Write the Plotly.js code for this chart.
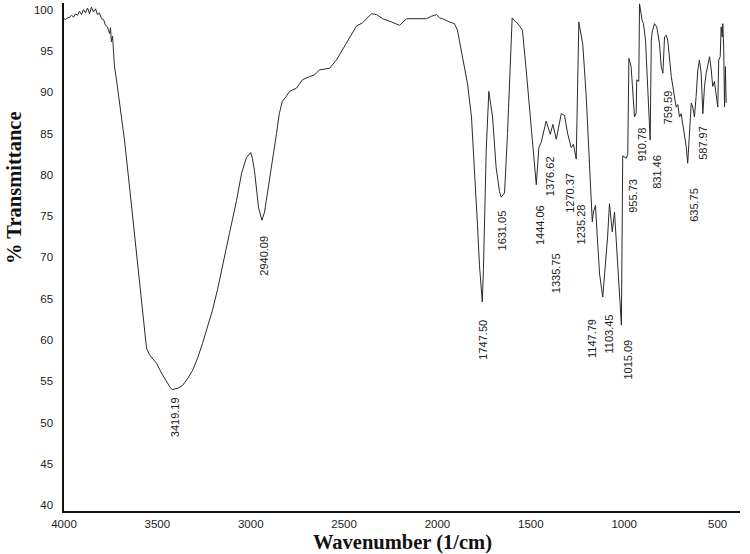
<!DOCTYPE html>
<html><head><meta charset="utf-8">
<script src="https://cdn.plot.ly/plotly-3.0.1.min.js"></script>
<style>html,body{margin:0;padding:0;background:#fff}#chart{width:750px;height:554px}</style>
</head><body><div id="chart"></div>
<script>
// ---- data ----
const wavenumber = [4000,3992,3981,3970,3960,3949,3938,3928,3917,3906,3896,3885,3874,3863,3853,3842,3831,3821,3810,3799,3788,3778,3767,3756,3751,3746,3740,3730,3719,3703,3676,3649,3622,3596,3569,3558,3542,3505,3478,3451,3430,3419,3400,3387,3365,3339,3312,3285,3258,3231,3205,3178,3151,3114,3076,3049,3023,3007,3000,2991,2980,2958,2940,2926,2916,2889,2862,2847,2831,2809,2792,2755,2723,2685,2659,2632,2578,2541,2487,2434,2402,2353,2327,2294,2246,2203,2166,2112,2059,2032,2005,1989,1973,1936,1909,1893,1866,1839,1818,1802,1786,1775,1760,1754,1739,1725,1705,1686,1668,1659,1641,1625,1611,1600,1590,1578,1560,1545,1525,1498,1475,1471,1457,1445,1418,1396,1382,1364,1337,1320,1302,1284,1272,1257,1243,1222,1204,1186,1171,1165,1154,1143,1132,1115,1106,1096,1089,1079,1064,1052,1034,1025,1015,1008,989,981,975,963,954,945,936,933,922,918,904,897,886,874,861,855,850,838,826,811,802,793,784,775,767,748,731,722,713,704,695,683,668,660,647,641,633,624,615,606,597,588,579,570,561,552,543,534,526,517,508,499,494,486,481,475,472,467,463,458,454];
const transmittance = [98.9,98.8,99.0,99.1,99.3,99.1,99.5,99.3,99.8,99.4,100.0,99.6,100.2,99.5,100.3,99.7,100.1,99.4,99.6,98.9,98.8,98.1,97.9,97.1,97.8,96.1,96.8,93.2,91.5,89.0,84.2,78.5,72.9,66.9,61.2,59.0,58.2,57.2,56.0,55.0,54.2,54.0,54.1,54.2,54.5,55.3,56.3,57.8,59.6,61.6,63.6,66.1,68.8,72.9,76.9,80.2,82.1,82.6,82.7,82.0,80.5,76.0,74.5,75.5,76.9,80.9,85.0,87.4,88.9,89.5,90.1,90.5,91.5,91.9,92.1,92.7,92.9,93.9,95.9,98.0,98.4,99.5,99.4,98.9,98.5,98.1,98.9,98.9,98.9,99.2,99.4,99.0,98.9,98.5,98.3,97.5,94.2,91.0,87.0,80.9,74.0,69.0,64.6,68.5,83.0,90.1,87.0,80.9,78.0,77.3,77.8,85.0,92.7,99.0,98.7,98.5,98.0,97.5,92.7,85.5,79.5,78.8,83.3,83.9,86.5,84.9,86.1,84.3,87.4,87.2,84.9,83.3,83.7,81.9,98.5,95.8,89.7,81.5,74.3,75.5,76.3,72.0,68.0,65.2,67.5,70.3,72.5,76.5,73.1,75.5,69.0,65.5,61.8,82.3,82.0,82.5,94.1,93.1,89.9,87.0,87.5,91.5,91.3,100.7,98.7,98.3,96.3,91.2,84.2,96.3,97.3,98.3,97.9,95.9,93.1,92.3,96.7,96.9,96.3,91.9,89.1,88.2,88.5,87.0,87.4,85.8,83.4,81.4,86.6,88.7,88.2,87.0,89.5,92.7,93.9,92.3,87.4,90.7,92.3,93.5,94.3,92.7,90.7,91.3,89.9,88.2,93.9,94.3,97.9,96.7,98.3,95.1,88.2,93.1,88.7];
const peakWavenumbers = [3419.19,2940.09,1747.50,1631.05,1444.06,1376.62,1335.75,1270.37,1235.28,1147.79,1103.45,1015.09,955.73,910.78,831.46,759.59,635.75,587.97];
const peakTransmittance = [54.1,74.5,64.6,77.3,78.8,84.9,87.4,81.9,81.9,74.3,65.2,61.8,82.0,87.0,84.2,92.3,81.6,87.4];
const xTickValues = [4000,3500,3000,2500,2000,1500,1000,500];
const yTickValues = [40,45,50,55,60,65,70,75,80,85,90,95,100];

// ---- label placement (pixels, layout only) ----
const labelGapPx = [6,13,16,11,18,20,138,12,43,95,15,12,18,8,13,15,24,10];
const labelShiftPx = [2,2.5,-2,-4,-2,-4,-6,-4,1,-4,4,7,1,1.5,1,-1,1,2];

const tickFont = {family: 'Liberation Sans, Arial, sans-serif', size: 11.5, color: '#222'};
const titleFont = {family: 'Liberation Serif, Times New Roman, serif', size: 20.5, color: '#111'};

const annotations = peakWavenumbers.map((wn, i) => ({
  x: wn, y: peakTransmittance[i], xref: 'x', yref: 'y',
  text: wn.toFixed(2), showarrow: false, textangle: -90,
  xanchor: 'center', yanchor: 'top',
  xshift: labelShiftPx[i], yshift: -labelGapPx[i],
  font: {family: 'Liberation Sans, Arial, sans-serif', size: 11, color: '#222'}
}));
annotations.push({
  xref: 'paper', yref: 'paper', x: -0.074, y: 0.636,
  text: '<b>% Transmittance</b>', showarrow: false, textangle: -90,
  xanchor: 'center', yanchor: 'middle', font: titleFont
});
annotations.push({
  xref: 'paper', yref: 'paper', x: 0.5, y: 0, yshift: -31,
  text: '<b>Wavenumber (1/cm)</b>', showarrow: false,
  xanchor: 'center', yanchor: 'middle', font: titleFont
});

const trace = {
  x: wavenumber, y: transmittance, type: 'scatter', mode: 'lines',
  line: {color: '#2a2a2a', width: 1}, hoverinfo: 'x+y'
};

const layout = {
  width: 750, height: 554,
  margin: {l: 64, r: 10, t: 3, b: 43, autoexpand: false},
  paper_bgcolor: '#fff', plot_bgcolor: '#fff',
  showlegend: false,
  xaxis: {
    range: [4000, 380], autorange: false, tickvals: xTickValues,
    showgrid: false, zeroline: false, showline: true, linecolor: '#111', linewidth: 1.6,
    ticks: 'outside', ticklen: 2, tickcolor: 'rgba(0,0,0,0)', tickfont: tickFont
  },
  yaxis: {
    range: [39.3, 100.8], autorange: false, tickvals: yTickValues,
    showgrid: false, zeroline: false, showline: true, linecolor: '#111', linewidth: 1.6,
    ticks: 'outside', ticklen: 7, tickcolor: 'rgba(0,0,0,0)', tickfont: tickFont
  },
  annotations: annotations
};

Plotly.newPlot('chart', [trace], layout, {staticPlot: true, displayModeBar: false});
</script>
</body></html>
